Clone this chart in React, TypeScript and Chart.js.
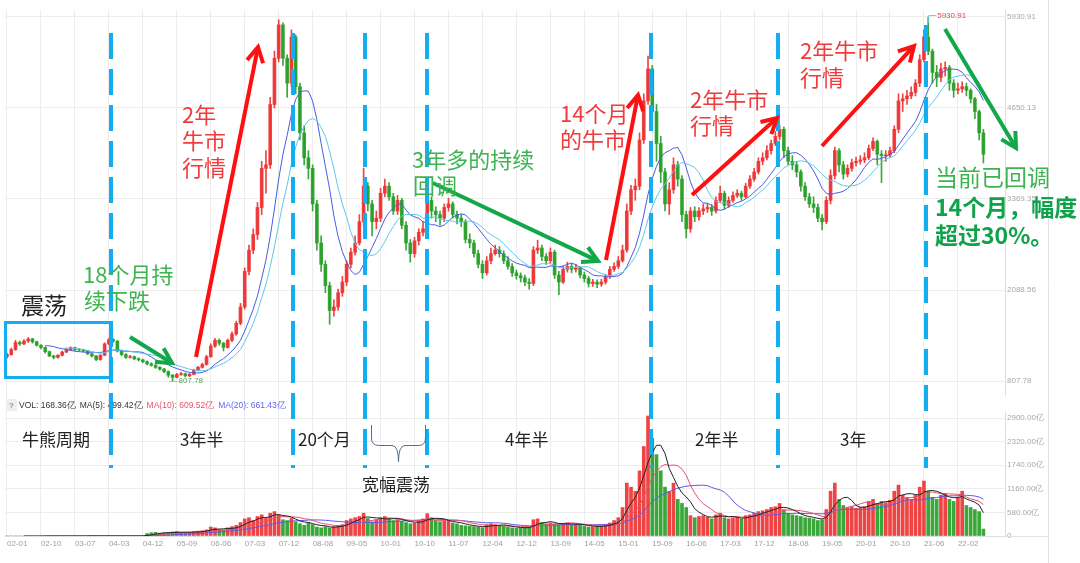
import React, { useEffect, useRef } from 'react';
import { Chart, registerables } from 'chart.js';
Chart.register(...registerables);

// ---------- data (CSI 300 style index, one slot ≈ one month) ----------
const xTickLabels = ['02-01','02-10','03-07','04-03','04-12','05-09','06-06','07-03','07-12','08-08','09-05','10-01','10-10','11-07','12-04','12-12','13-09','14-05','15-01','15-09','16-06','17-03','17-12','18-08','19-05','20-01','20-10','21-06','22-02'];
const xTickSlots = [0,8,16,24,32,40,48,56,64,72,80,88,96,104,112,120,128,136,144,152,160,168,176,184,192,200,208,216,224];
const priceTicks = [807.78, 2088.56, 3369.35, 4650.13, 5930.91];
const volTicks = [0, 580, 1160, 1740, 2320, 2900];

const firstOpen = 1150;
const closes = [
  1180,1250,1350,1330,1370,1400,1360,1310,1280,1220,
  1160,1140,1170,1215,1250,1275,1250,1245,1230,1190,
  1160,1110,1170,1330,1390,1370,1230,1180,1140,1150,
  1120,1105,1080,1050,1030,1000,975,940,890,860,
  900,910,880,900,960,1000,1040,1150,1300,1380,
  1340,1280,1380,1470,1620,1850,2350,2650,2870,3250,
  3800,3850,4700,5350,5820,5350,5000,5650,4950,4300,
  3950,3800,3300,2750,2450,2150,1800,1850,2050,2200,
  2450,2620,2750,3050,3550,3300,3050,3100,3450,3550,
  3400,3200,3350,3000,2750,2600,2780,2900,2950,3350,
  3200,3150,3100,3250,3300,3150,3100,3050,2800,2750,
  2600,2450,2330,2500,2600,2650,2600,2500,2420,2330,
  2290,2260,2200,2180,2650,2680,2560,2500,2620,2300,
  2200,2380,2420,2380,2400,2300,2250,2180,2200,2170,
  2200,2280,2380,2420,2500,2650,3200,3500,3550,4200,
  4750,5200,4600,4150,3750,3300,3500,3850,3650,3150,
  2950,3200,3120,3200,3230,3250,3200,3350,3450,3280,
  3350,3420,3450,3400,3550,3650,3750,3900,3950,4050,
  4150,4250,4350,4050,3900,3850,3750,3550,3400,3300,
  3250,3100,3050,3350,3700,4050,3850,3720,3800,3880,
  3900,3920,3950,4080,4180,4000,3980,3990,4050,4350,
  4750,4780,4820,4870,5000,5330,5650,5450,5150,5080,
  5200,5220,5000,4900,4920,4950,4900,4780,4600,4300,
  4000
];
const highs = [
  1200,1270,1380,1370,1390,1420,1410,1370,1320,1290,
  1230,1170,1180,1230,1265,1290,1285,1265,1255,1240,
  1200,1170,1180,1345,1410,1405,1375,1240,1195,1170,
  1160,1135,1115,1090,1065,1040,1010,985,950,900,
  915,930,920,915,975,1015,1060,1170,1330,1410,
  1400,1350,1400,1500,1650,1900,2400,2720,2950,3320,
  3900,4050,4800,5450,5892,5850,5400,5750,5680,5000,
  4400,4050,3850,3350,2850,2500,2200,1950,2100,2280,
  2500,2680,2850,3150,3803,3600,3350,3200,3520,3650,
  3600,3450,3420,3380,3050,2800,2830,2950,3050,3597,
  3400,3260,3200,3300,3380,3330,3200,3150,3080,2880,
  2790,2650,2500,2560,2680,2720,2700,2640,2560,2460,
  2370,2330,2300,2250,2700,2790,2720,2600,2680,2650,
  2350,2420,2480,2460,2450,2420,2340,2280,2240,2230,
  2240,2310,2420,2470,2560,2720,3300,3560,3650,4300,
  4850,5380,5250,4700,4250,3800,3600,3950,3900,3700,
  3200,3250,3260,3250,3300,3310,3290,3400,3550,3480,
  3400,3470,3500,3480,3590,3700,3800,3950,4020,4120,
  4200,4320,4403,4380,4100,3980,3900,3780,3600,3450,
  3400,3300,3150,3400,3780,4100,4080,3900,3850,3930,
  3960,3980,4020,4130,4230,4200,4050,4050,4100,4400,
  4850,4850,4900,4950,5050,5400,5750,5930.91,5480,5250,
  5280,5300,5250,5050,5000,5020,5000,4920,4800,4620,
  4350
];
const lows = [
  1130,1170,1240,1310,1320,1350,1340,1300,1260,1200,
  1150,1120,1130,1160,1205,1240,1235,1230,1215,1180,
  1145,1095,1100,1165,1320,1350,1215,1165,1125,1130,
  1105,1090,1065,1035,1015,985,960,925,860,807.78,
  850,885,865,870,895,950,990,1030,1140,1280,
  1310,1230,1270,1360,1450,1600,1820,2300,2600,2800,
  3150,3450,3800,4650,5300,5250,4800,4950,4850,4200,
  3850,3650,3200,2650,2350,2050,1606,1720,1800,2000,
  2150,2400,2580,2720,3000,3200,2850,2950,3050,3400,
  3350,3150,3150,2950,2650,2480,2550,2720,2850,2920,
  3100,3050,3000,3050,3200,3100,3020,2980,2750,2680,
  2550,2400,2250,2300,2460,2580,2550,2460,2380,2280,
  2240,2200,2150,2102,2150,2600,2500,2450,2470,2250,
  2023,2180,2340,2330,2340,2260,2200,2130,2140,2120,
  2140,2170,2250,2350,2390,2480,2620,3150,3350,3500,
  4150,4700,4400,3900,3600,3200,3150,3450,3550,3050,
  2821,2900,3050,3070,3150,3180,3140,3170,3320,3230,
  3250,3320,3390,3350,3380,3520,3620,3720,3850,3920,
  4000,4120,4200,3950,3850,3780,3680,3480,3350,3250,
  3180,3050,2935,3020,3300,3650,3750,3650,3680,3760,
  3830,3860,3880,3920,4050,3850,3600,3900,3950,4020,
  4300,4600,4700,4780,4820,4950,5300,5400,5000,4950,
  5020,5100,4900,4800,4850,4870,4820,4720,4500,4200,
  3876
];
const volumes = [
  0,0,0,0,0,0,0,0,0,0,
  0,0,0,0,0,0,0,0,0,0,
  0,0,0,0,0,0,0,0,0,0,
  0,0,0,60,80,90,70,80,90,100,
  110,90,80,90,110,120,130,150,220,200,
  160,150,200,230,260,330,420,450,380,480,
  520,430,560,600,520,400,380,430,350,300,
  260,330,280,220,200,230,200,230,260,280,
  380,420,450,480,560,430,350,400,450,480,
  420,380,400,360,330,300,320,380,420,550,
  450,380,350,380,360,320,300,260,250,240,
  230,220,200,280,300,280,260,240,220,200,
  190,200,210,220,400,420,330,300,320,300,
  280,300,320,280,290,260,240,220,230,240,
  250,280,320,380,450,700,1300,1200,1100,1600,
  2200,2950,2400,2000,1600,1200,1100,1300,900,800,
  700,500,450,480,500,460,420,520,560,450,
  420,440,460,420,500,520,560,600,620,650,
  700,720,800,650,560,520,500,480,450,440,
  420,380,400,650,1100,1300,900,750,700,720,
  680,700,720,850,900,800,850,820,880,1100,
  1250,1000,950,900,1000,1200,1350,1100,950,900,
  1000,1050,900,850,950,1100,750,700,650,600,
  170
];
const cycleMarks = [24.5, 67.4, 84.3, 98.9, 151.7, 181.6, 216.5];
const lowSlot = 39;
const highSlot = 217;

// ---------- helpers ----------
const UP = 'rgba(238,52,52,0.92)';
const DOWN = 'rgba(40,160,40,0.92)';
const opens = closes.map((c, i) => (i === 0 ? firstOpen : closes[i - 1]));
const isUp = closes.map((c, i) => c >= opens[i]);

function sma(values: number[], n: number) {
  const out: { x: number; y: number }[] = [];
  for (let i = n - 1; i < values.length; i++) {
    let s = 0;
    for (let k = i - n + 1; k <= i; k++) s += values[k];
    out.push({ x: i, y: s / n });
  }
  return out;
}

const CJK = '"Noto Sans CJK SC", "Noto Sans", sans-serif';
const LAT = '"Liberation Sans", Arial, sans-serif';

function arrow(ctx: CanvasRenderingContext2D, x1: number, y1: number, x2: number, y2: number, color: string) {
  ctx.save();
  ctx.strokeStyle = color;
  ctx.lineWidth = 4;
  ctx.lineCap = 'butt';
  ctx.lineJoin = 'miter';
  const a = Math.atan2(y2 - y1, x2 - x1);
  ctx.beginPath();
  ctx.moveTo(x1, y1);
  ctx.lineTo(x2 - 2 * Math.cos(a), y2 - 2 * Math.sin(a));
  ctx.stroke();
  const h = 17;
  ctx.beginPath();
  ctx.moveTo(x2 - h * Math.cos(a - 0.5), y2 - h * Math.sin(a - 0.5));
  ctx.lineTo(x2, y2);
  ctx.lineTo(x2 - h * Math.cos(a + 0.5), y2 - h * Math.sin(a + 0.5));
  ctx.stroke();
  ctx.restore();
}

function text(ctx: CanvasRenderingContext2D, s: string, x: number, y: number, color: string, font: string) {
  ctx.fillStyle = color;
  ctx.font = font;
  ctx.textBaseline = 'top';
  ctx.textAlign = 'left';
  ctx.fillText(s, x, y);
}

const annotationPlugin = {
  id: 'annotations',
  afterDraw(chart: any) {
    const ctx: CanvasRenderingContext2D = chart.ctx;
    const xs = chart.scales.x;
    const ys = chart.scales.y;
    ctx.save();

    // outer frame line on the right
    ctx.strokeStyle = '#e2e2e2';
    ctx.lineWidth = 1;
    ctx.beginPath();
    ctx.moveTo(1048.5, 0);
    ctx.lineTo(1048.5, 563);
    ctx.moveTo(1005, 536.5);
    ctx.lineTo(1048, 536.5);
    ctx.stroke();

    // low / high markers
    const lx = xs.getPixelForValue(lowSlot);
    const ly = ys.getPixelForValue(lows[lowSlot]);
    ctx.strokeStyle = '#7cc7e0';
    ctx.beginPath();
    ctx.moveTo(lx - 3, ly + 0.5);
    ctx.lineTo(lx + 5, ly + 0.5);
    ctx.stroke();
    ctx.fillStyle = '#55a055';
    ctx.font = `8px ${LAT}`;
    ctx.textBaseline = 'middle';
    ctx.fillText(lows[lowSlot].toFixed(2), lx + 6, ly);

    const hx = xs.getPixelForValue(highSlot);
    const hy = ys.getPixelForValue(highs[highSlot]);
    ctx.strokeStyle = '#7cc7e0';
    ctx.beginPath();
    ctx.moveTo(hx + 0.5, hy + 6);
    ctx.lineTo(hx + 0.5, hy - 1.5);
    ctx.lineTo(hx + 8, hy - 1.5);
    ctx.stroke();
    ctx.fillStyle = '#e04848';
    ctx.fillText(highs[highSlot].toFixed(2), hx + 9, hy - 1);

    // volume legend row
    ctx.fillStyle = '#eeeeee';
    ctx.fillRect(6, 399, 11, 12);
    ctx.fillStyle = '#666';
    ctx.font = `8px ${LAT}`;
    ctx.textBaseline = 'middle';
    ctx.fillText('?', 9, 405.5);
    let lxp = 19;
    const parts: [string, string][] = [
      ['VOL: 168.36亿', '#333'],
      ['MA(5): 499.42亿', '#333'],
      ['MA(10): 609.52亿', '#e8506e'],
      ['MA(20): 661.43亿', '#6464f0'],
    ];
    ctx.font = `8.5px ${LAT}`;
    for (const [s, c] of parts) {
      ctx.fillStyle = c;
      ctx.fillText(s, lxp, 405.5);
      lxp += ctx.measureText(s).width + 4;
    }

    // blue box around the sideways range
    const BLUE = '#12aef0';
    ctx.strokeStyle = BLUE;
    ctx.lineWidth = 3;
    ctx.strokeRect(5.5, 322.5, 105, 55);

    // cycle dashed lines
    ctx.lineWidth = 4;
    ctx.setLineDash([26, 10]);
    cycleMarks.forEach((m, i) => {
      const x = Math.round(xs.getPixelForValue(m));
      ctx.beginPath();
      ctx.moveTo(x, i === cycleMarks.length - 1 ? 25 : 33);
      ctx.lineTo(x, 468);
      ctx.stroke();
    });
    ctx.setLineDash([]);

    // arrows
    const RED = '#ff1010';
    const GREEN = '#12a84a';
    arrow(ctx, 130, 337, 172, 363, GREEN);
    arrow(ctx, 196, 357, 258, 47, RED);
    arrow(ctx, 433, 183, 598, 261, GREEN);
    arrow(ctx, 606, 260, 638, 95, RED);
    arrow(ctx, 692, 195, 777, 118, RED);
    arrow(ctx, 822, 146, 914, 46, RED);
    arrow(ctx, 945, 29, 1016, 148, GREEN);

    // texts
    const TGREEN = '#3cb451';
    const TRED = '#f23a3a';
    text(ctx, '震荡', 21, 294, '#222', `23px ${CJK}`);
    text(ctx, '18个月持', 83, 264, TGREEN, `22px ${CJK}`);
    text(ctx, '续下跌', 84, 290, TGREEN, `22px ${CJK}`);
    text(ctx, '2年', 182, 104, TRED, `22px ${CJK}`);
    text(ctx, '牛市', 182, 130, TRED, `22px ${CJK}`);
    text(ctx, '行情', 182, 157, TRED, `22px ${CJK}`);
    text(ctx, '3年多的持续', 412, 149, TGREEN, `22px ${CJK}`);
    text(ctx, '回调', 413, 175, TGREEN, `22px ${CJK}`);
    text(ctx, '14个月', 560, 103, TRED, `22px ${CJK}`);
    text(ctx, '的牛市', 560, 129, TRED, `22px ${CJK}`);
    text(ctx, '2年牛市', 690, 89, TRED, `22px ${CJK}`);
    text(ctx, '行情', 690, 115, TRED, `22px ${CJK}`);
    text(ctx, '2年牛市', 800, 40, TRED, `22px ${CJK}`);
    text(ctx, '行情', 800, 67, TRED, `22px ${CJK}`);
    text(ctx, '当前已回调', 935, 166, TGREEN, `23px ${CJK}`);
    text(ctx, '14个月，幅度', 935, 196, '#0ea24a', `bold 23px ${CJK}`);
    text(ctx, '超过30%。', 935, 224, '#0ea24a', `bold 23px ${CJK}`);

    // cycle labels
    const lab = `17px ${CJK}`;
    text(ctx, '牛熊周期', 22, 431, '#222', lab);
    text(ctx, '3年半', 180, 431, '#222', lab);
    text(ctx, '20个月', 298, 431, '#222', lab);
    text(ctx, '4年半', 505, 431, '#222', lab);
    text(ctx, '2年半', 695, 431, '#222', lab);
    text(ctx, '3年', 840, 431, '#222', lab);

    // brace + label
    ctx.strokeStyle = '#4f6f95';
    ctx.lineWidth = 1;
    ctx.beginPath();
    ctx.moveTo(371.5, 425);
    ctx.lineTo(371.5, 438);
    ctx.quadraticCurveTo(371.5, 445.5, 379, 445.5);
    ctx.lineTo(392, 445.5);
    ctx.quadraticCurveTo(398.5, 445.5, 398.5, 462);
    ctx.quadraticCurveTo(398.5, 445.5, 405, 445.5);
    ctx.lineTo(418, 445.5);
    ctx.quadraticCurveTo(425.5, 445.5, 425.5, 438);
    ctx.lineTo(425.5, 425);
    ctx.stroke();
    text(ctx, '宽幅震荡', 362, 476, '#222', `17px ${CJK}`);

    ctx.restore();
  },
};

export default function App() {
  const ref = useRef<HTMLCanvasElement>(null);
  useEffect(() => {
    document.body.style.margin = '0';
    document.body.style.background = '#fff';
    const slots = closes.map((_, i) => i);
    const wickData = slots.map((i) => ({ x: i, y: [lows[i], highs[i]] }));
    const bodyData = slots.map((i) => ({ x: i, y: [Math.min(opens[i], closes[i]), Math.max(opens[i], closes[i]) + (opens[i] === closes[i] ? 4 : 0)] }));
    const volData = slots.map((i) => ({ x: i, y: volumes[i] }));
    const colors = slots.map((i) => (isUp[i] ? UP : DOWN));

    const tickFont = { size: 8, family: LAT };
    const chart = new Chart(ref.current as HTMLCanvasElement, {
      type: 'bar',
      data: {
        datasets: [
          { type: 'line', data: sma(closes, 14), yAxisID: 'y', borderColor: '#5cc8ee', borderWidth: 1, pointRadius: 0, tension: 0, order: 0 } as any,
          { type: 'line', data: sma(closes, 10), yAxisID: 'y', borderColor: '#4b5ae6', borderWidth: 1, pointRadius: 0, tension: 0, order: 0 } as any,
          { type: 'bar', data: wickData, yAxisID: 'y', backgroundColor: colors, barThickness: 1, grouped: false, order: 2 } as any,
          { type: 'bar', data: bodyData, yAxisID: 'y', backgroundColor: colors, barThickness: 3, grouped: false, order: 1 } as any,
          { type: 'bar', data: volData, yAxisID: 'yv', backgroundColor: colors, barThickness: 3, grouped: false, order: 3 } as any,
          { type: 'line', data: sma(volumes, 5), yAxisID: 'yv', borderColor: '#222', borderWidth: 1, pointRadius: 0, order: 0 } as any,
          { type: 'line', data: sma(volumes, 10), yAxisID: 'yv', borderColor: '#e8506e', borderWidth: 1, pointRadius: 0, order: 0 } as any,
          { type: 'line', data: sma(volumes, 20), yAxisID: 'yv', borderColor: '#5a5af0', borderWidth: 1, pointRadius: 0, order: 0 } as any,
        ],
      },
      options: {
        responsive: false,
        animation: false,
        devicePixelRatio: 1,
        events: [],
        layout: { padding: { left: 5, right: 32, top: 10, bottom: 12 } },
        plugins: { legend: { display: false }, tooltip: { enabled: false } },
        scales: {
          x: {
            type: 'linear',
            position: 'bottom',
            offset: false,
            min: -0.471,
            max: 235.09,
            afterBuildTicks: (s: any) => { s.ticks = xTickSlots.map((v) => ({ value: v })); },
            afterFit: (s: any) => { s.height = 15; },
            ticks: {
              callback: (v: any) => xTickLabels[xTickSlots.indexOf(Number(v))] ?? '',
              align: 'start',
              padding: 3,
              color: '#a0a0a0',
              font: tickFont,
              maxRotation: 0,
              autoSkip: false,
            },
            grid: { color: '#ededed', drawTicks: false, offset: false },
            border: { color: '#dddddd' },
          },
          y: {
            type: 'linear',
            position: 'right',
            stack: 'panels',
            stackWeight: 385,
            min: 610.74,
            max: 6029.43,
            afterBuildTicks: (s: any) => { s.ticks = priceTicks.map((v) => ({ value: v })); },
            afterFit: (s: any) => { s.width = 43; },
            ticks: { callback: (v: any) => Number(v).toFixed(2), padding: 2, color: '#a8a8a8', font: tickFont },
            grid: { color: '#ededed', drawTicks: false },
            border: { color: '#dddddd' },
          },
          gap: {
            type: 'linear',
            position: 'right',
            stack: 'panels',
            stackWeight: 17,
            min: 0,
            max: 1,
            afterFit: (s: any) => { s.width = 43; },
            ticks: { display: false },
            grid: { display: false },
            border: { display: false },
          },
          yv: {
            type: 'linear',
            position: 'right',
            stack: 'panels',
            stackWeight: 124,
            min: 0,
            max: 3047.5,
            afterBuildTicks: (s: any) => { s.ticks = volTicks.map((v) => ({ value: v })); },
            afterFit: (s: any) => { s.width = 43; },
            ticks: { callback: (v: any) => (Number(v) === 0 ? '0' : Number(v).toFixed(2) + '亿'), padding: 2, color: '#a8a8a8', font: tickFont },
            grid: { color: '#ededed', drawTicks: false },
            border: { color: '#dddddd' },
          },
        },
      } as any,
      plugins: [annotationPlugin],
    });
    return () => chart.destroy();
  }, []);

  return (
    <div style={{ position: 'relative', width: 1080, height: 563, background: '#fff' }}>
      <canvas ref={ref} width={1080} height={563} style={{ display: 'block' }} />
    </div>
  );
}
